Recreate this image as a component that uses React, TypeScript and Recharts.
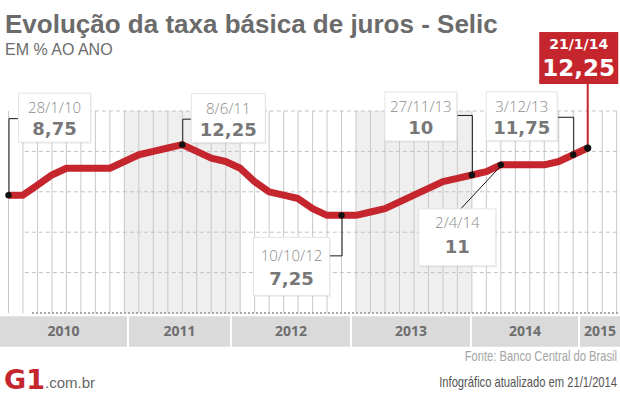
import React from "react";
import {
  LineChart, Line, XAxis, YAxis,
  ReferenceArea, ReferenceLine, ReferenceDot,
} from "recharts";

// Selic target at each Copom meeting (8 a year), Jan/2010 .. Jan/2015, % a.a.
const selic = [
  8.75, 8.75, 9.5, 10.25, 10.75, 10.75, 10.75, 10.75,   // 2010
  11.25, 11.75, 12.0, 12.25, 12.5, 12.0, 11.5, 11.25,   // 2011
  10.75, 9.75, 9.0, 8.75, 8.5, 7.75, 7.25, 7.25,        // 2012
  7.25, 7.5, 7.75, 8.25, 8.75, 9.25, 9.75, 10.0,        // 2013
  10.25, 10.5, 11.0, 11.0, 11.0, 11.0, 11.25, 11.75,    // 2014
  12.25,                                                // 2015
];

const years = ["2010", "2011", "2012", "2013", "2014", "2015"];
const shadedYears = ["2011", "2013"];
const MEETINGS_PER_YEAR = 8;

// callouts: meeting index, date text, value text
const noteIdx = [0, 12, 23, 32, 34, 39];
const noteDate = ["28/1/10", "8/6/11", "10/10/12", "27/11/13", "2/4/14", "3/12/13"];
const noteValue = ["8,75", "12,25", "7,25", "10", "11", "11,75"];
const lastIdx = 40;
const lastDate = "21/1/14";
const lastValue = "12,25";

const gridY = [3, 6, 9, 12, 15];

// ---- layout ----------------------------------------------------------------
const W = 620;
const H = 394;
const RED = "#c5262d";
const X_DOMAIN: [number, number] = [-0.587, 42.23];
const LAST_SLOT = 42;
// year band edges, in meeting-slot units
const yearEdges: [number, number][] = [
  [-0.587, 8.18], [8.32, 15.3], [15.43, 23.58],
  [23.72, 31.87], [32.0, 39.33], [39.47, 42.23],
];

// box offsets relative to the dot, leg = connector polyline
const noteBox = [
  { dx: 10, dy: -102, w: 72, h: 49, t1: 20, t2: 42, leg: [[0, 0], [0, -77], [10, -77]] },
  { dx: 9, dy: -51, w: 74, h: 49, t1: 20, t2: 42, leg: [[0, 0], [0, -26], [9, -26]] },
  { dx: -88, dy: 22, w: 76, h: 58, t1: 24, t2: 48, leg: [[0, 0], [0, 40], [-12, 40]] },
  { dx: -87, dy: -83, w: 72, h: 49, t1: 20, t2: 42, leg: [[0, 0], [0, -60], [-15, -60]] },
  { dx: -82, dy: 44, w: 77, h: 57, t1: 19, t2: 44, leg: [[0, 0], [-41, 44]] },
  { dx: -87, dy: -63, w: 71, h: 49, t1: 20, t2: 42, leg: [[0, 0], [0, -38], [-16, -38]] },
];

const data = selic.map((v, k) => ({ k, v }));
const slots = Array.from({ length: LAST_SLOT + 1 }, (_, k) => k);

function Note({ cx, cy, i }: { cx: number; cy: number; i: number }) {
  const L = noteBox[i];
  const x = cx + L.dx;
  const y = cy + L.dy;
  const pts = L.leg.map(([a, b]) => `${cx + a + 0.5},${cy + b + 0.5}`).join(" ");
  return (
    <g>
      <polyline points={pts} fill="none" stroke="#1a1a1a" strokeWidth={1} />
      <rect x={x + 1} y={y + 1.5} width={L.w} height={L.h} fill="#000" fillOpacity={0.07} />
      <rect x={x} y={y} width={L.w} height={L.h} fill="#fff" stroke="#e4e4e4" />
      <text x={x + L.w / 2} y={y + L.t1} textAnchor="middle"
        style={{ fontFamily: "Open Sans", fontWeight: 300, fontSize: 15, fill: "#8a8a8a" }}>
        {noteDate[i]}
      </text>
      <text x={x + L.w / 2} y={y + L.t2} textAnchor="middle"
        style={{ fontFamily: "DejaVu Sans", fontWeight: 700, fontSize: 18, fill: "#777" }}>
        {noteValue[i]}
      </text>
      <circle cx={cx} cy={cy} r={3.2} fill="#111" />
    </g>
  );
}

function LastNote({ cx, cy }: { cx: number; cy: number }) {
  const x = cx - 48.5;
  const y = cy - 116;
  const w = 79;
  const h = 52;
  return (
    <g>
      <line x1={cx} y1={y + h} x2={cx} y2={cy} stroke={RED} strokeWidth={2} />
      <rect x={x} y={y} width={w} height={h} fill={RED} />
      <text x={x + w / 2} y={y + 17} textAnchor="middle"
        style={{ fontFamily: "DejaVu Sans", fontWeight: 700, fontSize: 14, fill: "#fff" }}>
        {lastDate}
      </text>
      <text x={x + w / 2} y={y + 44} textAnchor="middle"
        style={{ fontFamily: "DejaVu Sans", fontWeight: 700, fontSize: 23, fill: "#fff" }}>
        {lastValue}
      </text>
      <circle cx={cx} cy={cy} r={3.6} fill="#111" />
    </g>
  );
}

export default function App() {
  return (
    <div style={{ position: "absolute", left: 0, top: 0, width: W, height: H, background: "#fff" }}>
      <LineChart width={W} height={H} data={data}
        margin={{ top: 111, right: 0, bottom: 81, left: 0 }}>
        <XAxis dataKey="k" type="number" domain={X_DOMAIN} allowDataOverflow hide />
        <YAxis type="number" domain={[0, 15]} allowDataOverflow hide />

        {shadedYears.map((yr) => {
          const s = years.indexOf(yr) * MEETINGS_PER_YEAR;
          return (
            <ReferenceArea key={"shade" + yr} x1={s} x2={s + MEETINGS_PER_YEAR} y1={0} y2={15}
              fill="#efefef" fillOpacity={1} stroke="none" />
          );
        })}

        {/* one rule per meeting slot */}
        {slots.map((k) => (
          <ReferenceLine key={"v" + k} x={k} stroke="#c9c9c9" strokeWidth={1} />
        ))}

        {gridY.map((v) => (
          <ReferenceLine key={"h" + v} segment={[{ x: 1.13, y: v }, { x: X_DOMAIN[1], y: v }]}
            stroke="#c2c2c2" strokeDasharray="4 3" />
        ))}
        <ReferenceLine segment={[{ x: 1.62, y: 0 }, { x: X_DOMAIN[1], y: 0 }]}
          stroke="#a9a9a9" strokeWidth={2} strokeDasharray="2 2" />

        {years.map((yr, i) => (
          <ReferenceArea key={"band" + yr} x1={yearEdges[i][0]} x2={yearEdges[i][1]} y1={-0.25} y2={-2.5}
            ifOverflow="visible" fill="#dadada" fillOpacity={1} stroke="none"
            label={{
              value: yr, position: "center", fill: "#6e6e6e",
              style: { fontFamily: "Open Sans", fontWeight: 700, fontSize: 14 },
            }} />
        ))}

        <Line type="linear" dataKey="v" stroke={RED} strokeWidth={7} strokeLinejoin="round"
          dot={false} activeDot={false} isAnimationActive={false} />

        {noteIdx.map((k, i) => (
          <ReferenceDot key={"n" + i} x={k} y={selic[k]} r={3} ifOverflow="visible"
            shape={(p: any) => <Note cx={p.cx} cy={p.cy} i={i} />} />
        ))}
        <ReferenceDot x={lastIdx} y={selic[lastIdx]} r={3} ifOverflow="visible"
          shape={(p: any) => <LastNote cx={p.cx} cy={p.cy} />} />
      </LineChart>

      <svg width={W} height={H} style={{ position: "absolute", left: 0, top: 0, pointerEvents: "none" }}>
        <text x={5} y={33} style={{ fontFamily: "Liberation Sans, Arial", fontWeight: 700, fontSize: 26, fill: "#6b6b6b" }}>
          Evolução da taxa básica de juros - Selic
        </text>
        <text x={5} y={55} style={{ fontFamily: "Liberation Sans, Arial", fontSize: 16, fill: "#6b6b6b" }}>
          EM % AO ANO
        </text>
        <g transform="translate(617,361) scale(0.8,1)">
          <text x={0} y={0} textAnchor="end"
            style={{ fontFamily: "Liberation Sans, Arial", fontSize: 14, fill: "#a5a5a5" }}>
            Fonte: Banco Central do Brasil
          </text>
        </g>
        <g transform="translate(617,387) scale(0.8,1)">
          <text x={0} y={0} textAnchor="end"
            style={{ fontFamily: "Liberation Sans, Arial", fontSize: 14, fill: "#555" }}>
            Infográfico atualizado em 21/1/2014
          </text>
        </g>
        <text x={4} y={389} style={{ fontFamily: "DejaVu Sans", fontWeight: 700, fontSize: 27, fill: RED }}>
          G1
        </text>
        <text x={45} y={388} style={{ fontFamily: "Liberation Sans, Arial", fontSize: 15, fill: "#666" }}>
          .com.br
        </text>
      </svg>
    </div>
  );
}
